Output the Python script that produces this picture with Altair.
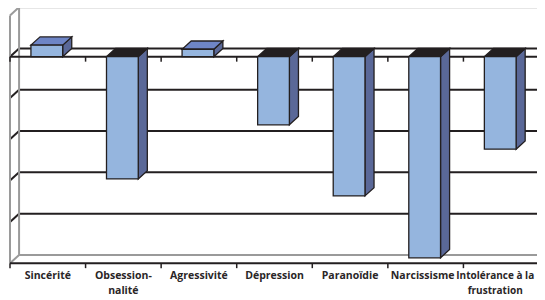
import altair as alt
import pandas as pd

# ---- data ----
categories = ["Sincérité", "Obsession-\nnalité", "Agressivité", "Dépression",
              "Paranoïdie", "Narcissisme", "Intolérance à la\nfrustration"]
values = [0.28, -2.96, 0.18, -1.65, -3.37, -4.87, -2.24]
grid_levels = [-5, -4, -3, -2, -1, 0, 1]

# ---- geometry (styling) ----
DX, DY = 0.12, 0.2          # 3D depth offsets in data units
BW = 0.42                   # bar width (category units)
DARK = "#231F20"
GRAY = "#9A9A9A"
FRONT = "#95B5DE"
SIDE = "#5A6898"
TOPPOS = "#6E85C6"

n = len(categories)
xs = alt.Scale(domain=[0, n], range=[2, 531], nice=False, zero=False)
ys = alt.Scale(domain=[-5, 1], range=[255.2, 7.4], nice=False, zero=False)

# ---- lines (walls, grid, axes) ----
lines = []
for v in grid_levels:
    col = GRAY if v in (grid_levels[0], grid_levels[-1]) else DARK
    lines.append(dict(x=DX, x2=n + DX + 0.2, y=v + DY, y2=v + DY, c=col, w=2))
    lines.append(dict(x=0, x2=DX, y=v, y2=v + DY, c=col, w=2))
lines.append(dict(x=0, x2=0, y=-5, y2=1, c=GRAY, w=2))
lines.append(dict(x=DX, x2=DX, y=-5 + DY, y2=1 + DY, c=GRAY, w=2))
lines.append(dict(x=n, x2=n + DX, y=-5, y2=-5 + DY, c=GRAY, w=2))
lines.append(dict(x=0, x2=n + DX + 0.2, y=0, y2=0, c=DARK, w=2))
lines.append(dict(x=0, x2=n, y=-5, y2=-5, c=DARK, w=2))
for i in range(n + 1):
    for base in (0, -5):
        lines.append(dict(x=i, x2=i, y=base, y2=base - 0.12, c=DARK, w=1.5))
lines_df = pd.DataFrame(lines)

line_layer = alt.Chart(lines_df).mark_rule().encode(
    x=alt.X("x:Q", scale=xs, axis=None),
    x2="x2:Q",
    y=alt.Y("y:Q", scale=ys, axis=None),
    y2="y2:Q",
    color=alt.Color("c:N", scale=None),
    strokeWidth=alt.StrokeWidth("w:Q", scale=None),
)

# ---- bars ----
front_rows, side_rows, top_rows = [], [], []
for i, (cat, val) in enumerate(zip(categories, values)):
    left = i + 0.5 - BW / 2 - 0.013
    right = left + BW
    front_rows.append(dict(x=left, x2=right, y=0, y2=val))
    side_rows.append(dict(b=i, x=right, y=val, y2=0))
    side_rows.append(dict(b=i, x=right + DX, y=val + DY, y2=DY))
    t = max(val, 0)
    fc = TOPPOS if val > 0 else DARK
    top_rows.append(dict(b=i, y=t, x=left, x2=right, f=fc))
    top_rows.append(dict(b=i, y=t + DY, x=left + DX, x2=right + DX, f=fc))

front_layer = alt.Chart(pd.DataFrame(front_rows)).mark_rect(
    fill=FRONT, stroke=DARK, strokeWidth=1.3
).encode(
    x=alt.X("x:Q", scale=xs, axis=None), x2="x2:Q",
    y=alt.Y("y:Q", scale=ys, axis=None), y2="y2:Q",
)

side_layer = alt.Chart(pd.DataFrame(side_rows)).mark_area(
    orient="vertical", fill=SIDE, stroke=DARK, strokeWidth=1.3
).encode(
    x=alt.X("x:Q", scale=xs, axis=None),
    y=alt.Y("y:Q", scale=ys, axis=None), y2="y2:Q",
    detail="b:N",
)

top_layer = alt.Chart(pd.DataFrame(top_rows)).mark_area(
    orient="horizontal", stroke=DARK, strokeWidth=1.3
).encode(
    y=alt.Y("y:Q", scale=ys, axis=None),
    x=alt.X("x:Q", scale=xs, axis=None), x2="x2:Q",
    fill=alt.Fill("f:N", scale=None),
    detail="b:N",
)

# ---- category labels ----
lab_df = pd.DataFrame({"cat": categories, "pos": [i + 0.5 for i in range(n)]})
text_style = dict(lineBreak="\n", baseline="alphabetic", align="center",
                  font="Open Sans", fontWeight="bold",
                  color="#2A2627", lineHeight=15)


def label_layer(rows, dx=0, size=10.5):
    return alt.Chart(lab_df.iloc[rows]).mark_text(
        dx=dx, fontSize=size, **text_style
    ).encode(
        x=alt.X("pos:Q", scale=xs, axis=None),
        y=alt.value(271),
        text="cat:N",
    )


labels = [
    label_layer(slice(0, n - 2)),
    label_layer(slice(n - 2, n - 1), dx=-3),
    label_layer(slice(n - 1, n), dx=-6, size=10),
]

chart = alt.layer(
    line_layer, side_layer, top_layer, front_layer, *labels
).properties(
    width=529, height=292, padding=0,
    autosize=alt.AutoSizeParams(type="none"),
    background="white",
).configure_view(stroke=None)

chart.save("out.html", embed_options={"renderer": "svg", "actions": False})
